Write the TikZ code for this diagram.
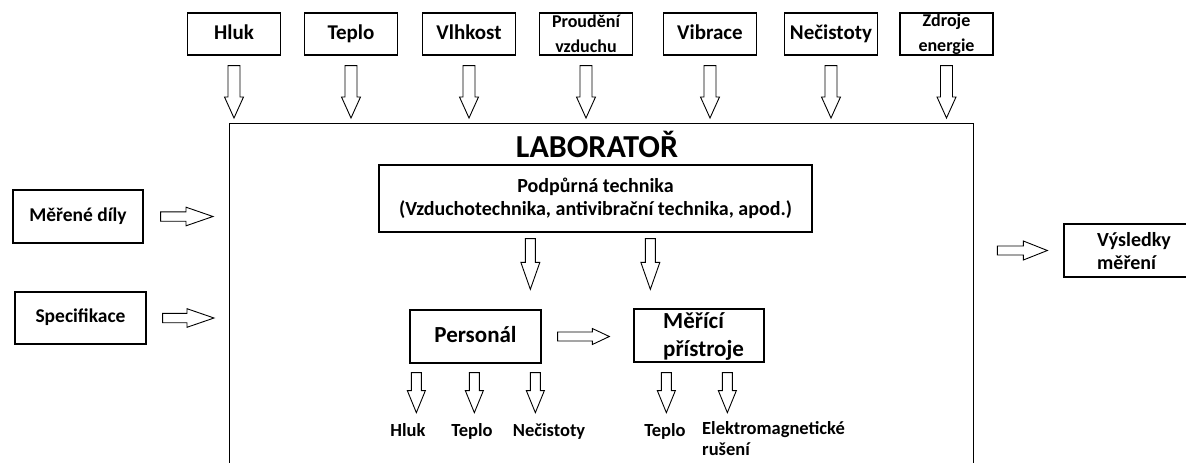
\documentclass[tikz,border=0pt]{standalone}
\usepackage{fontspec}
\setmainfont{Carlito}
\usetikzlibrary{calc}
\newcommand\fsz[2]{\fontsize{#1}{#2}\selectfont\bfseries}
% hollow block arrow: start, end, shaft half-width, head half-width, head length
\newcommand\blockarrow[5]{%
  \coordinate (ba-p) at ($(#2)!#5!(#1)$);
  \draw[barrow] ($(#1)!#3!90:(#2)$) -- ($(ba-p)!#3!-90:(#1)$) -- ($(ba-p)!#4!-90:(#1)$)
    -- (#2) -- ($(ba-p)!#4!90:(#1)$) -- ($(ba-p)!#3!90:(#1)$) -- ($(#1)!#3!-90:(#2)$) -- cycle;}
\begin{document}
\begin{tikzpicture}[x=1pt,y=-1pt,
  box/.style={draw, line width=1.3pt, inner sep=0pt, align=center},
  topbox/.style={box, minimum width=93pt, minimum height=42pt, font=\fsz{21}{25}},
  topone/.style={topbox, text height=14.7pt, text depth=4.2pt},
  smalltop/.style={topbox, font=\fsz{18}{25}},
  midbox/.style={box, minimum width=130pt, minimum height=53pt},
  barrow/.style={draw, line width=0.9pt, fill=white, line join=miter},
  lbl/.style={inner sep=0pt, font=\fsz{18.5}{21}}]
\fill[white] (0,0) rectangle (1186,463);
\useasboundingbox (0,0) rectangle (1186,463);
\clip (0,0) rectangle (1186,463);

% top boxes
\node[topone] (hluk) at (234,34) {Hluk};
\node[topone] (teplo) at (351,34) {Teplo};
\node[topone] (vlhk) at (469,34) {Vlhkost};
\node[smalltop] (proud) at (586,34) {Proudění\\vzduchu};
\node[topone] (vibr) at (710,34) {Vibrace};
\node[topone] (necis) at (831,34) {Nečistoty};
\node[smalltop] (zdroj) at (946.5,34) {Zdroje\\energie};

% laboratory
\node[box, anchor=north west, minimum width=744pt, minimum height=420pt] (lab) at (229,123) {};
\node[inner sep=0pt, anchor=base, font=\fsz{32}{36}] (labt) at (597,157) {LABORATOŘ};
\node[box, minimum width=433pt, minimum height=67pt, font=\fsz{20}{23}] (pod) at (595.5,198.5)
  {Podpůrná technika\\(Vzduchotechnika, antivibrační technika, apod.)};
\node[midbox, minimum width=131pt, text height=16.1pt, text depth=4.6pt, font=\fsz{23}{28}] (pers) at (475.5,336.5) {Personál};
\node[midbox] (mer) at (699,335.5) {};
\node[inner sep=0pt, anchor=west, align=left, font=\fsz{23}{28}] (mert) at (663,336) {Měřící\\přístroje};

% left inputs
\node[midbox, text height=13.7pt, text depth=3.9pt, font=\fsz{19.5}{23}] (dily) at (78,216.5) {Měřené díly};
\node[midbox, minimum width=131pt, minimum height=52pt, text height=13.7pt, text depth=3.9pt, font=\fsz{19.5}{23}] (spec) at (80.5,318) {Specifikace};

% output
\node[box, minimum width=150pt, minimum height=53pt] (vysl) at (1139,250.5) {};
\node[inner sep=0pt, anchor=west, align=left, font=\fsz{20}{23}] (vyslt) at (1097,251.5) {Výsledky\\měření};

% bottom labels
\node[lbl, anchor=base] (o1) at (408,436) {Hluk};
\node[lbl, anchor=base] (o2) at (472,436) {Teplo};
\node[lbl, anchor=base] (o3) at (549,436) {Nečistoty};
\node[lbl, anchor=base] (o4) at (665,436) {Teplo};
\node[lbl, anchor=north west, align=left] (o5) at (702,421) {Elektromagnetické\\rušení};

% top arrows
\foreach \n in {hluk,teplo,vlhk,proud,vibr,necis,zdroj}{
  \coordinate (\n-s) at ($(\n.south)+(0pt,-10pt)$);
  \coordinate (\n-e) at ($(\n.south |- lab.north)+(0pt,5pt)$);
  \blockarrow{\n-s}{\n-e}{6pt}{9.5pt}{21pt}
}

% left arrows
\coordinate (d-s) at ($(dily.east)+(17pt,0pt)$);
\coordinate (d-e) at ($(dily.east -| lab.west)+(-16pt,0pt)$);
\blockarrow{d-s}{d-e}{4.7pt}{9.3pt}{27pt}
\coordinate (sp-s) at ($(spec.east)+(16pt,0pt)$);
\coordinate (sp-e) at ($(spec.east -| lab.west)+(-15pt,0pt)$);
\blockarrow{sp-s}{sp-e}{4.7pt}{9.3pt}{27pt}

% right arrow
\coordinate (r-s) at ($(lab.east |- vysl.west)+(23pt,0pt)$);
\coordinate (r-e) at ($(vysl.west)+(-16pt,0pt)$);
\blockarrow{r-s}{r-e}{4.5pt}{9.5pt}{24pt}

% support arrows
\coordinate (p1s) at ($(pod.south west)+(152pt,-6pt)$);
\coordinate (p1e) at ($(p1s |- pers.north)+(0pt,20pt)$);
\blockarrow{p1s}{p1e}{5pt}{9.5pt}{27pt}
\coordinate (p2s) at ($(pod.south west)+(272pt,-6pt)$);
\coordinate (p2e) at ($(p2s |- mer.north)+(0pt,19pt)$);
\blockarrow{p2s}{p2e}{5pt}{9.5pt}{27pt}

% personal -> instruments
\coordinate (pm-s) at ($(pers.east)+(16pt,0pt)$);
\coordinate (pm-e) at ($(pers.east -| mer.west)+(-24pt,0pt)$);
\blockarrow{pm-s}{pm-e}{4.5pt}{8pt}{17pt}

% down arrows to emissions
\coordinate (q1s) at ($(pers.south west)+(7pt,-9pt)$);
\coordinate (q2s) at ($(pers.south west)+(65pt,-9pt)$);
\coordinate (q3s) at ($(pers.south west)+(126pt,-9pt)$);
\coordinate (q4s) at ($(mer.south west)+(33pt,-10pt)$);
\coordinate (q5s) at ($(mer.south west)+(94pt,-10pt)$);
\foreach \q in {q1,q2,q3,q4,q5}{
  \coordinate (\q e) at ($(\q s)+(0pt,-40pt)$);
  \blockarrow{\q s}{\q e}{5pt}{9pt}{22pt}
}
\end{tikzpicture}
\end{document}
